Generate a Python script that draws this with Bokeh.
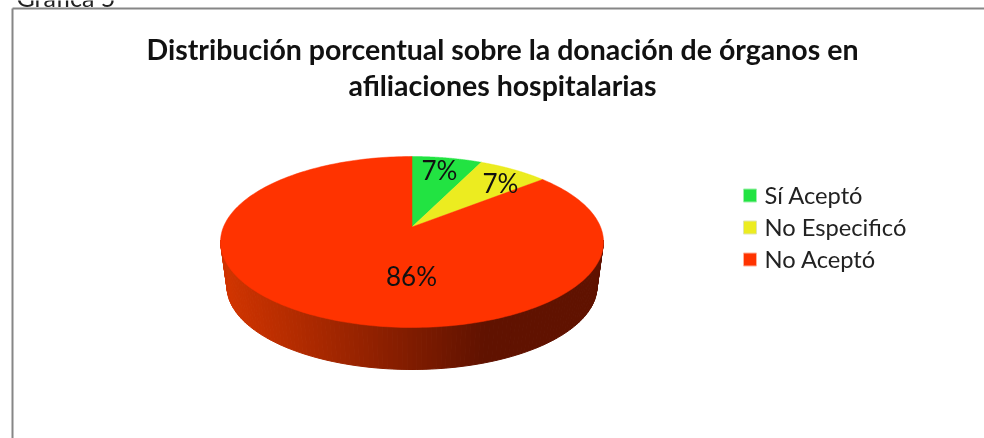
import numpy as np
from bokeh.plotting import figure
from bokeh.models import Range1d
from bokeh.core.properties import value
from bokeh.embed import file_html
from bokeh.resources import INLINE

caption = "Gráfica 5"
title_lines = ["Distribución porcentual sobre la donación de órganos en", "afiliaciones hospitalarias"]
categories = ["Sí Aceptó", "No Especificó", "No Aceptó"]
percent = [7, 7, 86]
colors = ["#22e342", "#ecec20", "#ff3300"]

W, H = 984, 438
p = figure(width=W, height=H, output_backend="svg", toolbar_location=None,
           x_range=Range1d(0, W), y_range=Range1d(H, 0), min_border=0,
           background_fill_color="white", border_fill_color="white")
p.axis.visible = False
p.grid.visible = False
p.outline_line_color = None
p.styles = {"position": "fixed", "left": "0px", "top": "0px"}

# frame
p.line([12, 12], [8, H], line_color="#868686", line_width=2)
p.line([12, W], [8, 8], line_color="#868686", line_width=2)

FONT = value("Lato")
p.text([16], [-4], text=[caption], text_font=FONT, text_font_size="25px",
       text_color="#222222", text_baseline="alphabetic")
p.text([502, 502], [48, 84], text=title_lines, text_font=FONT, text_font_style="bold",
       text_font_size="28.5px", text_color="#111111", text_align="center", text_baseline="middle")

# pie geometry
cx, cy, rx, ry = 411.5, 241.5, 191.5, 85.5
k = 15 / 85.5           # perspective shift of the apex on the top face
bx, by, brx, bry = 411.5, 286.0, 185.0, 83.0


def rim(theta):
    u, v = np.sin(theta), np.cos(theta)
    d = 1 + k * v
    return cx + rx * u * np.sqrt(1 - k * k) / d, cy - ry * (v + k) / d


# side wall as a horizontal gradient
n = 120
ts = np.linspace(0, np.pi, n + 1)
c0, c1 = np.array([0xd0, 0x34, 0x00]), np.array([0x60, 0x12, 0x00])
xs, ys, cs = [], [], []
for a, b in zip(ts[:-1], ts[1:]):
    xt = [cx + rx * np.cos(b), cx + rx * np.cos(a), bx + brx * np.cos(a), bx + brx * np.cos(b)]
    yt = [cy + ry * np.sin(b) - 2, cy + ry * np.sin(a) - 2, by + bry * np.sin(a), by + bry * np.sin(b)]
    xs.append(xt)
    ys.append(yt)
    f = np.clip((np.mean(xt) - 228) / (483 - 228), 0, 1)
    col = c0 + (c1 - c0) * f
    cs.append("#%02x%02x%02x" % tuple(int(round(q)) for q in col))
p.patches(xs, ys, fill_color=cs, line_color=cs, line_width=1)

# top face
cum = np.cumsum([0] + percent) / sum(percent) * 2 * np.pi
for i in range(len(percent)):
    th = np.linspace(cum[i], cum[i + 1], 240)
    x, y = rim(th)
    p.patch(np.r_[cx, x], np.r_[cy - ry * k, y], fill_color=colors[i], line_color=colors[i], line_width=0.5)

# data labels
label_x = [439, 500, 411]
label_y = [169, 182, 275]
p.text(label_x, label_y, text=[f"{v}%" for v in percent], text_font=FONT, text_font_size="26px",
       text_color="#111111", text_align="center", text_baseline="middle")

# legend
ly = [195, 227, 259]
p.scatter([749.5] * 3, ly, marker="square", size=13, fill_color=colors,
          line_color=["#9df0aa", "#dfe5b0", "#ffb09a"], line_width=1)
p.text([764] * 3, [q - 1 for q in ly], text=categories, text_font=FONT, text_font_size="23.7px",
       text_color="#222222", text_baseline="middle")

open("out.html", "w").write(file_html(p, INLINE))
